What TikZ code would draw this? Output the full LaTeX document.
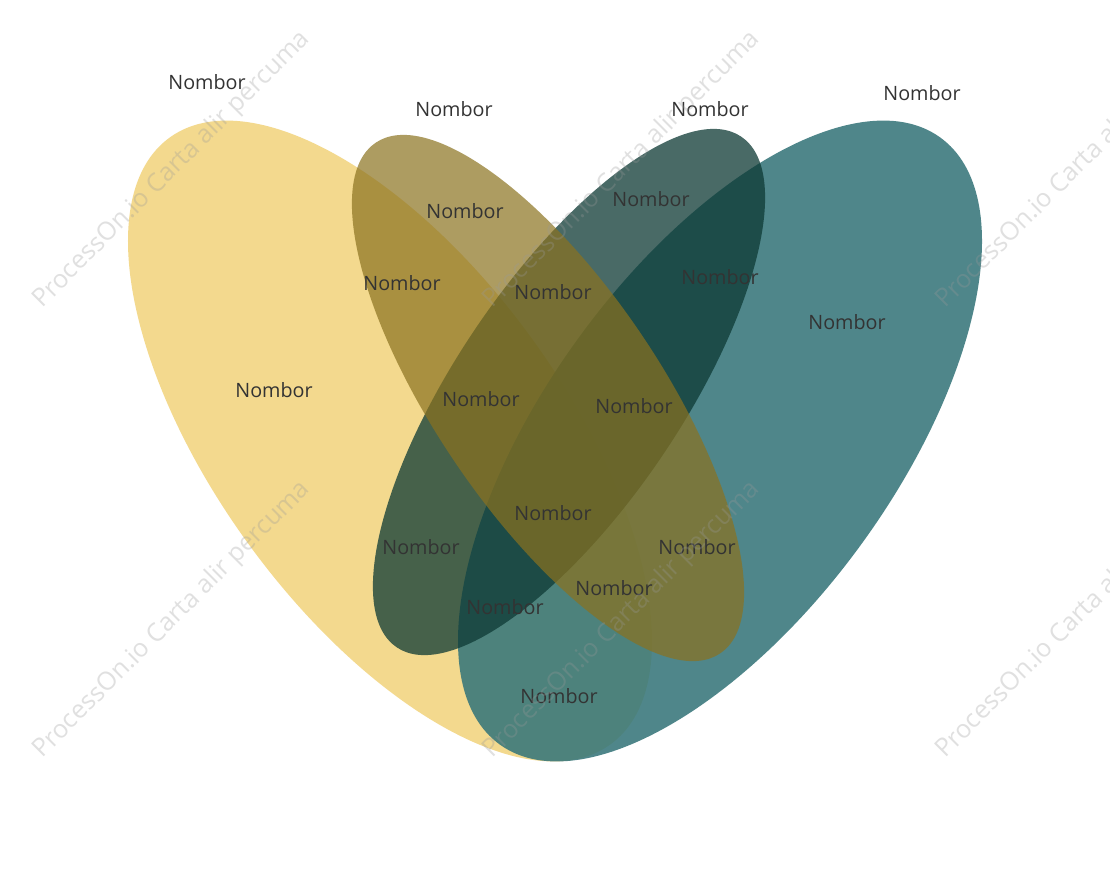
\documentclass[tikz,border=0pt]{standalone}
\usepackage{fontspec}
\setmainfont{Open Sans}
\begin{document}
\begin{tikzpicture}[x=0.75pt,y=-0.75pt,
  lbl/.style={font=\fontsize{14.8pt}{16pt}\selectfont,text=black!80},
  wm/.style={font=\fontsize{19pt}{21pt}\selectfont,text=black!40,opacity=0.3,rotate=45}]
\definecolor{cy}{RGB}{243,217,142}
\definecolor{ct}{RGB}{55,118,122}
\definecolor{cg}{RGB}{13,57,52}
\definecolor{cb}{RGB}{139,114,31}
\useasboundingbox (0,0) rectangle (1110,882);
\fill[white] (0,0) rectangle (1110,882);
\fill[cy] (390,441) ellipse [x radius=175, y radius=375, rotate=36];
\fill[ct,fill opacity=0.88] (720,441) ellipse [x radius=175, y radius=375, rotate=-36];
\fill[cg,fill opacity=0.75] (569,392) ellipse [x radius=113, y radius=308, rotate=-34];
\fill[cb,fill opacity=0.7] (548,398) ellipse [x radius=113, y radius=308, rotate=34];
\foreach \n/\x/\y in {a/207/82,b/454/109,c/710/109,d/922/93,e/465/211,f/651/199,g/402/283,h/553/292,i/720/277,j/847/322,k/274/390,l/481/399,m/634/406,n/553/513,o/421/547,p/697/547,q/614/588,r/505/607,s/559/696}
  \node[lbl] (\n) at (\x,\y) {Nombor};
\foreach \n/\x/\y in {w1/172/170,w2/622/170,w3/1075/170,w4/172/620,w5/622/620,w6/1075/620}
  \node[wm] (\n) at (\x,\y) {ProcessOn.io Carta alir percuma};
\end{tikzpicture}
\end{document}
